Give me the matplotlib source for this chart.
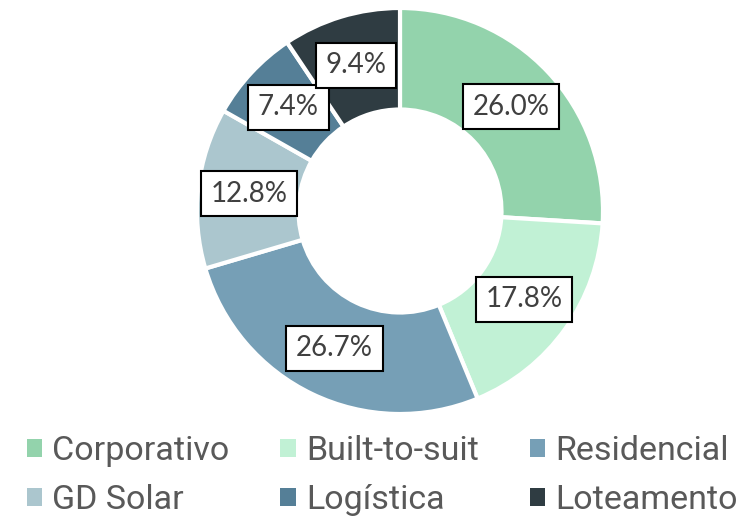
import matplotlib
matplotlib.use("Agg")
import matplotlib.pyplot as plt
import numpy as np

categories = ["Corporativo", "Built-to-suit", "Residencial", "GD Solar", "Logística", "Loteamento"]
values = [26.0, 17.8, 26.7, 12.8, 7.4, 9.4]
colors = ["#93D3AC", "#C1F1D5", "#769FB6", "#ABC6CE", "#557F97", "#2F3C42"]

W, H = 748, 520
fig = plt.figure(figsize=(W / 100, H / 100), dpi=100)
cx, cy, r = 400, 211, 203
ax = fig.add_axes([(cx - r) / W, (H - cy - r) / H, 2 * r / W, 2 * r / H])

wedges, _ = ax.pie(values, colors=colors, startangle=90, counterclock=False,
                   radius=1.0, wedgeprops=dict(width=0.5, edgecolor="white", linewidth=3))
ax.set_xlim(-1, 1)
ax.set_ylim(-1, 1)
ax.set_aspect("equal")
ax.axis("off")

for w, v in zip(wedges, values):
  mid = np.deg2rad((w.theta1 + w.theta2) / 2)
  ax.text(0.75 * np.cos(mid), 0.75 * np.sin(mid), f"{v:.1f}%", ha="center", va="center",
          fontsize=20, family=["Lato", "DejaVu Sans"], color="#404040",
          bbox=dict(boxstyle="square,pad=0.35", fc="white", ec="black", lw=1.5))

# legend is filled column by column, reorder so it reads row by row
order = [0, 3, 1, 4, 2, 5]
leg = fig.legend([wedges[i] for i in order], [categories[i] for i in order], ncol=3,
                 loc="lower center", bbox_to_anchor=(0.511, -0.052),
                 frameon=False, handlelength=0.45, handleheight=0.45, handletextpad=0.3,
                 columnspacing=1.5, labelspacing=0.5,
                 prop=dict(family=["Roboto", "DejaVu Sans"], size=24.5))
for t in leg.get_texts():
  t.set_color("#595959")
for h in leg.legend_handles:
  h.set_edgecolor("none")

fig.savefig("out.png", dpi=100)
